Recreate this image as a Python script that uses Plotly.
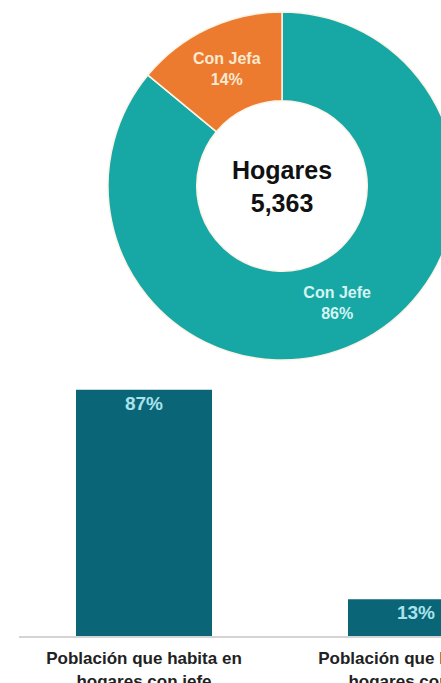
import plotly.graph_objects as go

# Donut data (clockwise from 12 o'clock)
donut_labels = ["Con Jefe", "Con Jefa"]
donut_values = [86, 14]
donut_text = ["Con Jefe<br>86%", "Con Jefa<br>14%"]
donut_colors = ["#17a8a6", "#ec7a2f"]
donut_text_colors = ["#d5f4f1", "#fbe9d2"]
center_title = "Hogares"
center_value = "5,363"

# Bar data
bar_categories = ["Población que habita en<br>hogares con jefe",
                  "Población que habita en<br>hogares con jefa"]
bar_values = [87, 13]

W, H = 470, 683
MB = 47
PH = H - MB  # plot area height in px


def py(p):
    return (PH - p) / PH


fig = go.Figure()

cx, cy, R = 282, 186, 174
fig.add_trace(go.Pie(
    labels=donut_labels, values=donut_values, text=donut_text,
    textinfo="text", textposition="inside", insidetextorientation="horizontal",
    sort=False, direction="clockwise", rotation=0, hole=0.49,
    marker=dict(colors=donut_colors, line=dict(color="#fbf3e6", width=1.5)),
    textfont=dict(family="Liberation Sans, Arial", size=16, weight="bold",
                  color=donut_text_colors),
    domain=dict(x=[(cx - R) / W, (cx + R) / W], y=[py(cy + R), py(cy - R)]),
    showlegend=False, hoverinfo="label+percent",
))

fig.add_annotation(
    x=(cx) / W, y=py(cy), xref="paper", yref="paper",
    text=f"<b>{center_title}<br>{center_value}</b>", showarrow=False,
    font=dict(family="Liberation Sans, Arial", size=25, color="#111111"),
    xanchor="center", yanchor="middle",
)

fig.add_trace(go.Bar(
    x=[0, 1], y=bar_values, width=0.5,
    marker=dict(color="#0a6677", line=dict(width=0)),
    text=[f"{v}%" for v in bar_values], textposition="inside",
    insidetextanchor="end", constraintext="none",
    textfont=dict(family="Liberation Sans, Arial", size=19, weight="bold",
                  color="#a9e2ec"),
    showlegend=False, xaxis="x", yaxis="y",
))

scale = 272.0
left_px = 19
x_min = -(144 - left_px) / scale
x_max = 1 + (W - 416) / scale

fig.update_layout(
    width=W, height=H,
    margin=dict(l=0, r=0, t=0, b=MB, pad=0),
    paper_bgcolor="white", plot_bgcolor="white",
    template="none",
    xaxis=dict(domain=[left_px / W, 1], range=[x_min, x_max],
               tickmode="array", tickvals=[0, 1], ticktext=bar_categories,
               showline=True, linecolor="#d4d4d4", linewidth=2,
               showgrid=False, zeroline=False, ticks="", automargin=False,
               ticklabeloverflow="allow", ticklabelstandoff=6,
               tickfont=dict(family="Liberation Sans, Arial", size=17,
                             weight="bold", color="#222222")),
    yaxis=dict(domain=[0, py(353)], range=[0, 100], visible=False,
               showgrid=False, zeroline=False, automargin=False),
    bargap=0.5,
)

fig.write_html("out.html",
               config={"displayModeBar": False},
               post_script="document.documentElement.style.overflow='hidden';"
                           "document.body.style.margin='0';"
                           "document.body.style.overflow='hidden';")
